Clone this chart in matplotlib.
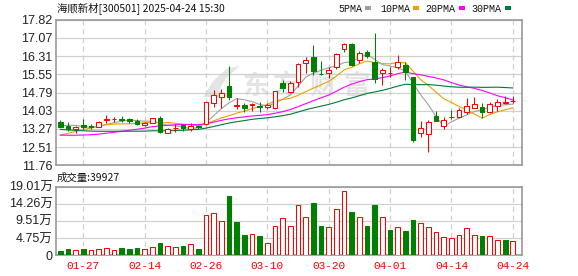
import matplotlib

matplotlib.use("Agg")
import matplotlib.pyplot as plt
from matplotlib.patches import Polygon, Rectangle
import numpy as np
import pandas as pd


dates = [
    "01-22", "01-23", "01-24", "01-27", "02-05", "02-06", "02-07", "02-10", "02-11", "02-12",
    "02-13", "02-14", "02-17", "02-18", "02-19", "02-20", "02-21", "02-24", "02-25", "02-26",
    "02-27", "02-28", "03-03", "03-04", "03-05", "03-06", "03-07", "03-10", "03-11", "03-12",
    "03-13", "03-14", "03-17", "03-18", "03-19", "03-20", "03-21", "03-24", "03-25", "03-26",
    "03-27", "03-28", "03-31", "04-01", "04-02", "04-03", "04-07", "04-08", "04-09", "04-10",
    "04-11", "04-14", "04-15", "04-16", "04-17", "04-18", "04-21", "04-22", "04-23", "04-24",
]

# closes before the visible window, only used to warm up the moving averages
prior_close = [
    13.95, 13.90, 13.85, 13.80, 13.78, 13.70, 13.65, 13.60, 13.55, 13.52,
    13.40, 13.30, 13.20, 13.10, 13.05, 12.95, 12.90, 12.80, 12.75, 12.65,
    12.55, 12.50, 12.60, 12.70, 12.79, 13.10, 13.40, 13.55, 13.55,
]

open_ = [
    13.57, 13.39, 13.25, 13.43, 13.40, 13.36, 13.65, 13.67, 13.67, 13.67,
    13.61, 13.42, 13.53, 13.71, 13.11, 13.29, 13.43, 13.27, 13.40, 13.47,
    14.34, 14.59, 15.06, 14.22, 14.27, 14.25, 14.24, 14.17, 14.13, 15.17,
    14.82, 15.22, 16.01, 16.29, 15.58, 15.59, 15.87, 16.59, 16.80, 16.15,
    16.50, 16.08, 15.59, 15.60, 15.87, 15.94, 15.42, 13.08, 13.04, 13.81,
    13.37, 13.77, 13.75, 13.96, 14.16, 14.17, 13.99, 14.24, 14.37, 14.42,
]
high = [
    13.64, 13.54, 13.39, 13.68, 13.49, 13.61, 13.85, 13.75, 13.82, 13.71,
    13.67, 13.55, 13.74, 13.81, 13.29, 13.47, 13.46, 13.53, 13.45, 14.41,
    14.89, 14.94, 15.91, 14.57, 14.34, 14.37, 14.41, 14.34, 14.87, 15.31,
    15.27, 16.04, 16.29, 16.78, 16.11, 15.87, 16.45, 16.85, 16.85, 16.52,
    16.55, 17.29, 15.83, 15.87, 16.36, 16.08, 15.45, 13.60, 13.64, 14.03,
    13.78, 14.05, 14.13, 14.55, 14.59, 14.34, 14.41, 14.50, 14.64, 14.64,
]
low = [
    13.33, 13.20, 13.08, 13.27, 13.27, 13.33, 13.53, 13.57, 13.57, 13.50,
    13.43, 13.40, 13.50, 13.11, 13.08, 13.15, 13.18, 13.18, 13.25, 13.43,
    14.20, 14.13, 14.48, 14.09, 13.99, 14.03, 13.99, 14.09, 14.09, 14.80,
    14.76, 15.03, 15.59, 15.52, 15.52, 15.38, 15.76, 16.50, 15.90, 16.01,
    16.25, 15.20, 15.10, 15.45, 15.76, 15.31, 12.71, 12.92, 12.29, 13.61,
    13.28, 13.69, 13.71, 13.89, 14.13, 13.71, 13.95, 14.03, 14.31, 14.34,
]
close = [
    13.36, 13.25, 13.36, 13.33, 13.36, 13.57, 13.67, 13.70, 13.64, 13.61,
    13.47, 13.53, 13.71, 13.15, 13.25, 13.32, 13.29, 13.39, 13.35, 14.38,
    14.69, 14.76, 14.59, 14.25, 14.13, 14.31, 14.17, 14.27, 14.85, 14.96,
    15.20, 15.98, 16.15, 15.70, 15.56, 15.73, 16.39, 16.80, 15.94, 16.45,
    16.33, 15.34, 15.73, 15.62, 16.08, 15.66, 12.81, 13.29, 13.54, 13.61,
    13.63, 13.75, 14.06, 14.23, 14.30, 13.99, 14.30, 14.41, 14.38, 14.44,
]
# volume in 万手
volume = [
    1.1, 1.6, 1.3, 1.6, 1.3, 1.6, 2.0, 1.3, 1.9, 1.6,
    1.9, 1.6, 2.1, 3.3, 2.4, 2.1, 2.5, 3.0, 1.6, 11.0,
    11.6, 9.4, 16.4, 9.2, 5.5, 5.75, 5.3, 3.25, 8.0, 10.2,
    8.0, 13.8, 10.5, 14.5, 8.1, 7.7, 12.7, 17.7, 12.0, 10.5,
    8.1, 13.9, 10.5, 7.0, 7.7, 6.7, 9.7, 8.8, 7.7, 6.4,
    4.9, 4.6, 5.5, 7.4, 5.5, 5.3, 5.2, 4.2, 4.2, 3.9927,
]

ma_windows = [5, 10, 20, 30]
ma_colors = ["#a0a0a0", "#f0a000", "#ff00ff", "#007a37"]
price_ticks = [11.76, 12.51, 13.27, 14.03, 14.79, 15.55, 16.31, 17.07, 17.82]
vol_ticks = [0, 4.75, 9.51, 14.26, 19.01]
date_ticks = ["01-27", "02-14", "02-26", "03-10", "03-20", "04-01", "04-14", "04-24"]

UP = "#ff0000"
DOWN = "#008000"
GRID = "#d0d0d0"
SPINE = "#999999"
MARK = "#e4e4e4"
W, H = 578, 276

plt.rcParams["font.family"] = ["Liberation Sans", "Noto Sans CJK SC"]

fig = plt.figure(figsize=(W / 100, H / 100), dpi=100)
ax = fig.add_axes([56 / W, 1 - 165 / H, 466 / W, 145 / H])
axv = fig.add_axes([56 / W, 1 - 255 / H, 466 / W, 68.3 / H])

x = np.arange(len(close))
o = np.array(open_)
c = np.array(close)
hi = np.array(high)
lo = np.array(low)
up = c >= o
cols = np.where(up, UP, DOWN)

# watermark (logo swoosh + name), drawn under everything
swoosh = [(203, 97), (214, 80), (228, 68), (240, 66), (226, 78), (219, 90), (232, 97)]
fig.add_artist(Polygon([(px / W, 1 - py / H) for px, py in swoosh], closed=True,
                       transform=fig.transFigure, color=MARK, lw=0, zorder=0.5))
for ch, cx in zip("东方财富", [256, 285, 323, 356]):
    fig.text(cx / W, 1 - 86 / H, ch, fontsize=19, color=MARK, fontweight="bold",
             family="Noto Sans CJK SC", ha="center", va="center", zorder=0.5)
ax.patch.set_alpha(0)
ax.set_zorder(2)

# candles
ax.vlines(x, lo, hi, colors=cols, lw=0.75, zorder=3)
body = np.maximum(np.abs(c - o), 0.012)
ax.bar(x, body, bottom=np.minimum(o, c), width=0.62,
       color=np.where(up, "white", DOWN), edgecolor=cols, linewidth=0.75, zorder=4)

# moving averages
all_close = pd.Series(prior_close + close)
for n, col in zip(ma_windows, ma_colors):
    ma = all_close.rolling(n).mean().iloc[-len(close):].to_numpy()
    ax.plot(x, ma, color=col, lw=0.8, zorder=2)

# volume, coloured against the previous close
prev = np.concatenate([[prior_close[-1]], c[:-1]])
vup = c >= prev
vcols = np.where(vup, UP, DOWN)
axv.bar(x, volume, width=0.62, color=np.where(vup, "white", DOWN),
        edgecolor=vcols, linewidth=0.75, zorder=3)

tick_pos = [dates.index(d) for d in date_ticks]
for a in (ax, axv):
    a.set_xlim(-0.56, 60.2)
    a.set_xticks(tick_pos)
    a.grid(axis="y", color=GRID, lw=0.9, ls="-")
    a.grid(axis="x", color=GRID, lw=0.9, ls=(0, (4, 3)))
    a.set_axisbelow(True)
    a.tick_params(length=0, labelsize=9, labelcolor="#222222", pad=2.5)
    for s in a.spines.values():
        s.set_color(SPINE)
        s.set_linewidth(1.2)

ax.set_ylim(11.76, 17.82)
ax.set_yticks(price_ticks)
ax.set_yticklabels([f"{v:.2f}" for v in price_ticks])
ax.set_xticklabels([])

axv.set_ylim(0, 19.01)
axv.set_yticks(vol_ticks)
axv.set_yticklabels(["0"] + [f"{v:.2f}万" for v in vol_ticks[1:]])
axv.set_xticklabels(date_ticks, color=UP, fontsize=8, family="Liberation Mono")
axv.tick_params(axis="x", pad=4.5)

# header texts
fig.text(57 / W, 1 - 8.3 / H, "海顺新材[300501] 2025-04-24 15:30", fontsize=7.5,
         family="Noto Sans CJK SC", va="center", ha="left", color="#111111")
fig.text(57 / W, 1 - 177.7 / H, f"成交量:{round(volume[-1] * 10000)}", fontsize=7.5,
         family="Noto Sans CJK SC", va="center", ha="left", color="#111111")

legend_items = [("5PMA", 338, 365), ("10PMA", 380, 413), ("20PMA", 425, 459), ("30PMA", 471, 505)]
for (label, tx, sx), col in zip(legend_items, ma_colors):
    fig.text(tx / W, 1 - 8.5 / H, label, fontsize=7.2, family="Liberation Mono",
             va="center", ha="left", color="#111111")
    fig.add_artist(Rectangle((sx / W, 1 - 10 / H), 6 / W, 4 / H,
                             transform=fig.transFigure, color=col, lw=0))

fig.savefig("out.png", dpi=100)
plt.close(fig)
